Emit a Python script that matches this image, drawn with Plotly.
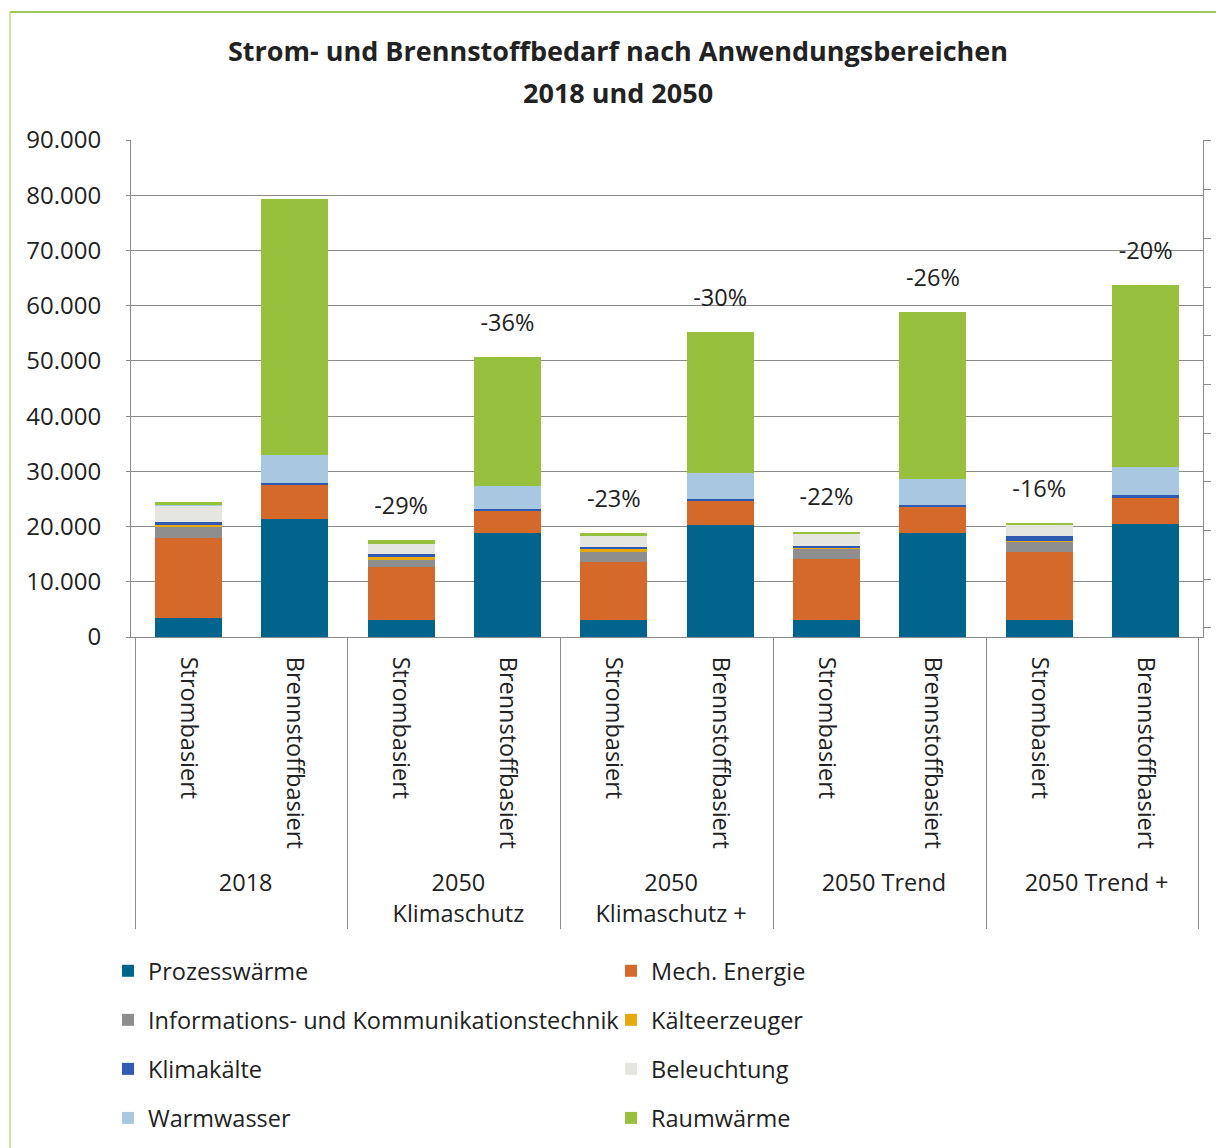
import plotly.graph_objects as go
import numpy as np

groups = ["2018", "2050<br>Klimaschutz", "2050<br>Klimaschutz +", "2050 Trend", "2050 Trend +"]
kinds = ["Strombasiert", "Brennstoffbasiert"]

# values per bar: order = (2018 Strom, 2018 Brenn, KS Strom, KS Brenn, KS+ Strom, KS+ Brenn, Trend Strom, Trend Brenn, Trend+ Strom, Trend+ Brenn)
prozesswaerme = [3500, 21300, 3100, 18900, 3100, 20300, 3100, 18900, 3100, 20400]
mech_energie = [14400, 6350, 9500, 4000, 10550, 4500, 11000, 4700, 12350, 4950]
ikt = [2100, 0, 1300, 0, 1800, 0, 1850, 0, 1800, 0]
kaelteerzeuger = [300, 0, 600, 0, 450, 0, 150, 0, 150, 0]
klimakaelte = [450, 300, 600, 250, 450, 250, 450, 300, 850, 300]
beleuchtung = [3100, 0, 1800, 0, 1950, 0, 2100, 0, 1950, 0]
warmwasser = [200, 5000, 0, 4250, 0, 4600, 0, 4650, 0, 5150]
raumwaerme = [350, 46300, 600, 23350, 480, 25600, 450, 30300, 500, 32900]

pct_labels = ["", "", "-29%", "-36%", "-23%", "-30%", "-22%", "-26%", "-16%", "-20%"]

series = [
    ("Prozesswärme", prozesswaerme, "#00648c", "legend"),
    ("Mech. Energie", mech_energie, "#d4692a", "legend2"),
    ("Informations- und Kommunikationstechnik", ikt, "#8e8e8e", "legend"),
    ("Kälteerzeuger", kaelteerzeuger, "#e9a90c", "legend2"),
    ("Klimakälte", klimakaelte, "#2f5bb5", "legend"),
    ("Beleuchtung", beleuchtung, "#e6e6e1", "legend2"),
    ("Warmwasser", warmwasser, "#a8c8e1", "legend"),
    ("Raumwärme", raumwaerme, "#97c13c", "legend2"),
]

# trailing non-breaking spaces only widen the gap between rotated labels and group labels
PAD = "\u00a0\u00a0"
xg = [g for g in groups for _ in kinds]
xk = [k + PAD for _ in groups for k in kinds]

FONT = "Open Sans"
TXT = "#222222"
GRID = "#8a8a8a"
FS = 23.5

fig = go.Figure()
for i, (name, vals, col, lg) in enumerate(series):
    fig.add_trace(go.Bar(
        x=[xg, xk], y=vals, name=name, marker=dict(color=col, line=dict(width=0)),
        legend=lg, legendgroup=name,
    ))

totals = np.sum([s[1] for s in series], axis=0)
label_offset = 5800
fig.add_trace(go.Scatter(
    x=[xg, xk], y=totals + label_offset, mode="text", text=pct_labels,
    textposition="middle center", textfont=dict(family=FONT, size=FS, color=TXT),
    showlegend=False, hoverinfo="skip",
))
fig.add_trace(go.Scatter(
    x=[xg, xk], y=[None] * len(xk), yaxis="y2", mode="markers",
    showlegend=False, hoverinfo="skip",
))

# page has an 8px body margin; reference pixel coords are shifted by OFF
OFF = 8
W, H = 1224 - OFF, 1148 - OFF
ml = 131 - OFF
mt = 140 - OFF
plot_right = 1203 - OFF
plot_bottom = 637 - OFF
mr = W - plot_right
mb = H - plot_bottom
pw, ph = W - ml - mr, H - mt - mb

def px2x(px):
    return (px - OFF - ml) / pw

def py2y(py):
    return (plot_bottom - (py - OFF)) / ph

fig.update_layout(
    template="none",
    width=W, height=H,
    margin=dict(l=ml, r=mr, t=mt, b=mb, pad=0, autoexpand=False),
    paper_bgcolor="white", plot_bgcolor="white",
    barmode="stack", bargap=0.37,
    separators=",.",
    font=dict(family=FONT, size=FS, color=TXT),
    title=dict(
        text="<b>Strom- und Brennstoffbedarf nach Anwendungsbereichen</b>",
        x=(618 - OFF) / W, xanchor="center", xref="container",
        y=1 - (52 - OFF) / H, yanchor="middle", yref="container",
        font=dict(family=FONT, size=27, color=TXT),
    ),
    annotations=[dict(
        text="<b>2018 und 2050</b>", xref="paper", yref="paper",
        x=px2x(618), y=py2y(93), xanchor="center", yanchor="middle",
        showarrow=False, font=dict(family=FONT, size=27, color=TXT),
    )],
    xaxis=dict(
        type="multicategory", tickangle=90, showline=True, linecolor=GRID, linewidth=1,
        showdividers=True, dividercolor=GRID, dividerwidth=1, ticks="",
        tickfont=dict(family=FONT, size=FS, color=TXT), mirror=False,
        automargin=False, ticklabelstandoff=14, showgrid=False, zeroline=False,
    ),
    yaxis=dict(
        range=[0, 90000], dtick=10000, tickformat=",d",
        showgrid=True, gridcolor=GRID, gridwidth=1,
        showline=True, linecolor=GRID, linewidth=1,
        ticks="outside", ticklen=4, tickcolor=GRID,
        tickfont=dict(family=FONT, size=24, color=TXT),
        zeroline=False, automargin=False, ticklabelstandoff=20,
    ),
    yaxis2=dict(
        overlaying="y", side="right", range=[-0.185, 10.02], dtick=1, tick0=0,
        showgrid=False, showticklabels=False, ticks="outside", ticklen=7, tickcolor=GRID,
        showline=True, linecolor=GRID, linewidth=1, zeroline=False, automargin=False,
    ),
    legend=dict(
        x=px2x(108), y=py2y(949), xanchor="left", yanchor="top",
        orientation="v", traceorder="grouped", tracegroupgap=15.5,
        font=dict(family=FONT, size=FS, color=TXT), bgcolor="rgba(0,0,0,0)",
        itemwidth=30,
    ),
    legend2=dict(
        x=px2x(611), y=py2y(949), xanchor="left", yanchor="top",
        orientation="v", traceorder="grouped", tracegroupgap=15.5,
        font=dict(family=FONT, size=FS, color=TXT), bgcolor="rgba(0,0,0,0)",
        itemwidth=30,
    ),
    shapes=[
        dict(type="line", xref="paper", yref="paper", x0=px2x(10), x1=px2x(1224), y0=py2y(12), y1=py2y(12),
             line=dict(color="#9cc85a", width=2)),
        dict(type="line", xref="paper", yref="paper", x0=px2x(10), x1=px2x(10), y0=py2y(12), y1=py2y(1148),
             line=dict(color="#b8d98a", width=1.5)),
    ],
)

fig.write_html("out.html")
